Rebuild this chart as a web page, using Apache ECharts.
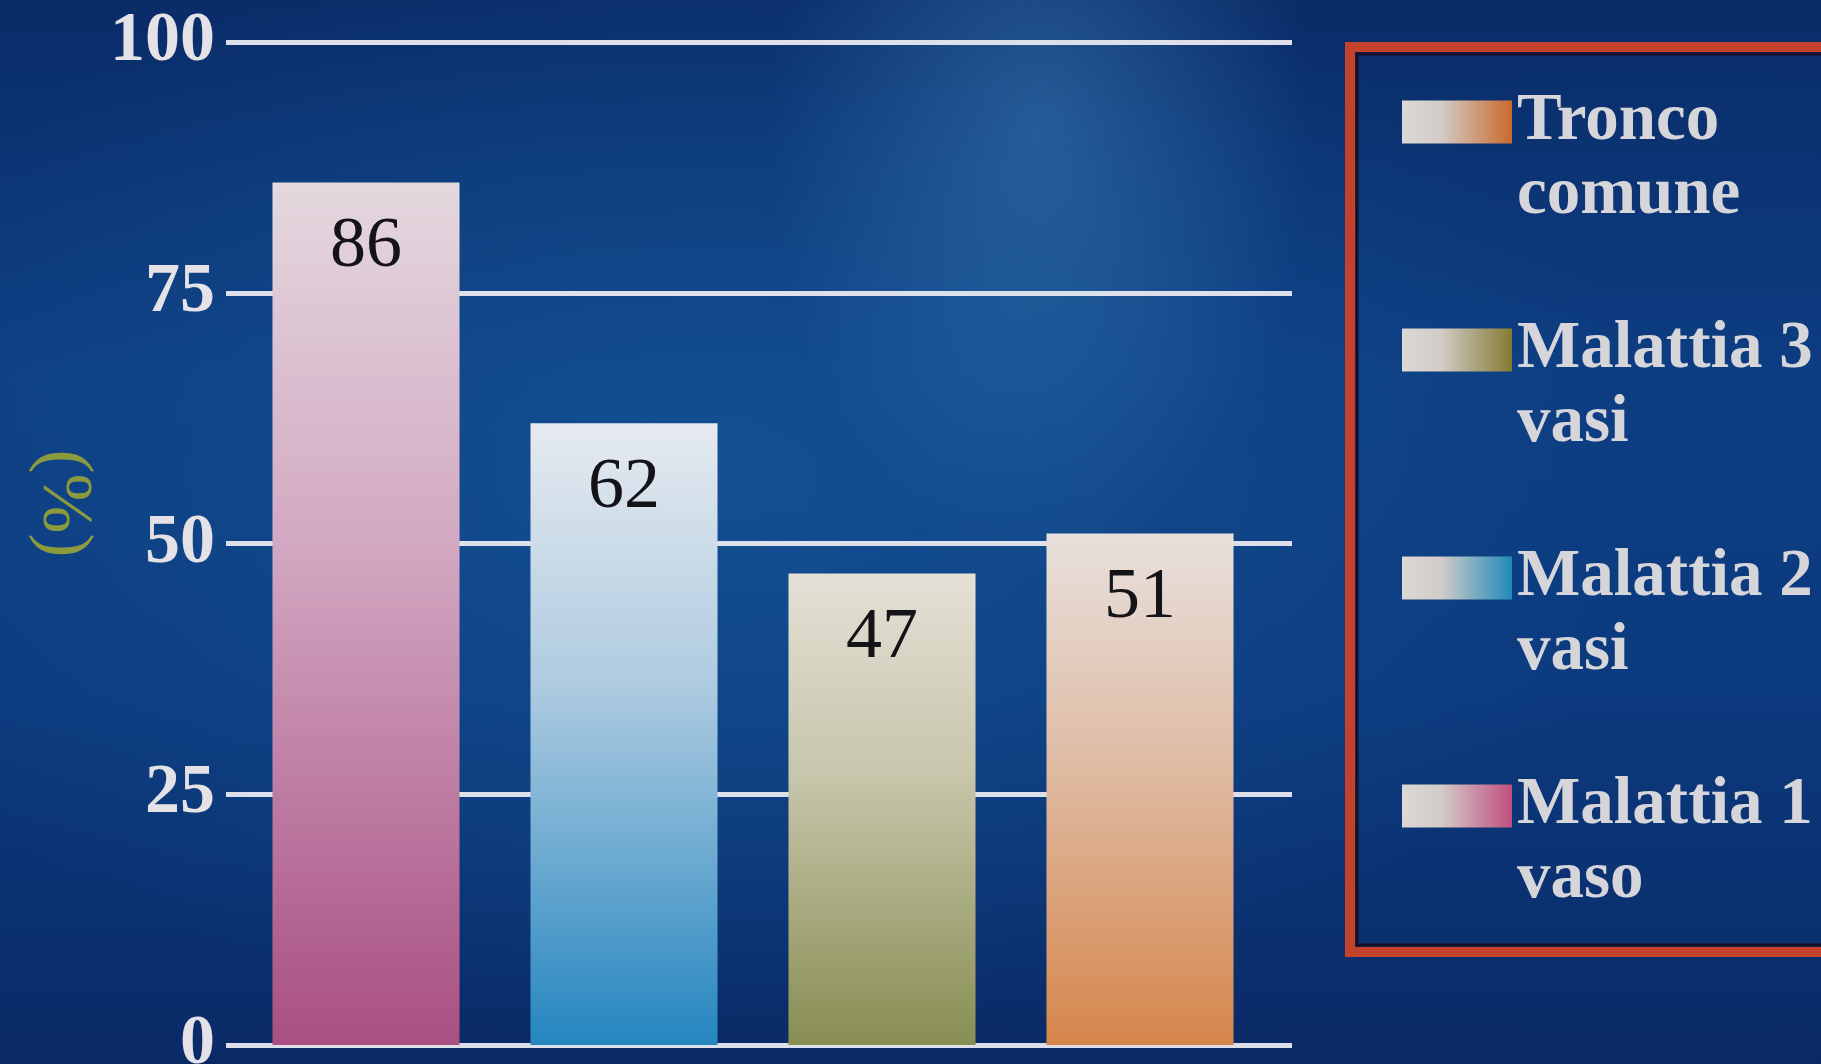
<!DOCTYPE html>
<html>
<head>
<meta charset="utf-8">
<script src="https://cdn.jsdelivr.net/npm/echarts@6/dist/echarts.min.js"></script>
<style>
  html, body { margin:0; padding:0; width:1821px; height:1064px; overflow:hidden; }
  body {
    background:
      radial-gradient(ellipse 360px 600px at 1040px 130px, rgba(70,140,195,0.42), rgba(70,140,195,0) 75%),
      radial-gradient(ellipse 1100px 650px at 720px 480px, rgba(22,88,152,0.7), rgba(22,88,152,0) 85%),
      linear-gradient(180deg, #0a2c68 0%, #0d3d82 35%, #0c3a7e 65%, #0a2a66 100%);
  }
  #chart { width:1821px; height:1064px; }
</style>
</head>
<body>
<div id="chart"></div>
<script>
// ---- data ----
const categories = ['Malattia 1 vaso', 'Malattia 2 vasi', 'Malattia 3 vasi', 'Tronco comune'];
const values = [86, 62, 47, 51];
const legendOrder = ['Tronco comune', 'Malattia 3 vasi', 'Malattia 2 vasi', 'Malattia 1 vaso'];
const yMin = 0, yMax = 100, yStep = 25;
const yName = '(%)';

// ---- styles ----
const barStops = {
  'Malattia 1 vaso': ['#e4d8de', '#d2a8c2', '#a94f82'],
  'Malattia 2 vasi': ['#e6eaf0', '#aecbe0', '#2486c0'],
  'Malattia 3 vasi': ['#e4e0d6', '#c8c6ac', '#878e52'],
  'Tronco comune':   ['#e8e0dc', '#dfbea8', '#d6864c']
};
const iconEnd = {
  'Malattia 1 vaso': '#c04f80',
  'Malattia 2 vasi': '#1f8ab8',
  'Malattia 3 vasi': '#857a32',
  'Tronco comune':   '#c96a2c'
};
function vgrad(s) {
  return new echarts.graphic.LinearGradient(0, 0, 0, 1, [
    {offset: 0, color: s[0]}, {offset: 0.42, color: s[1]}, {offset: 1, color: s[2]}
  ]);
}
function hgrad(c) {
  return new echarts.graphic.LinearGradient(0, 0, 1, 0, [
    {offset: 0, color: '#dcd8d6'}, {offset: 0.35, color: '#d2ccc8'}, {offset: 1, color: c}
  ]);
}

const series = categories.map((name, i) => ({
  name: name,
  type: 'bar',
  xAxisIndex: 0,
  yAxisIndex: 0,
  barGap: '-100%',
  barCategoryGap: '27.5%',
  data: values.map((v, j) => (j === i ? v : '-')),
  itemStyle: { color: vgrad(barStops[name]) },
  label: {
    show: true,
    position: 'insideTop',
    distance: 29,
    color: '#141418',
    fontFamily: 'Liberation Serif',
    fontSize: 72,
    fontWeight: 'normal'
  },
  emphasis: { disabled: true },
  z: 3
}));

const chart = echarts.init(document.getElementById('chart'), null, {renderer: 'canvas'});
chart.setOption({
  backgroundColor: 'transparent',
  animation: false,
  grid: [
    { left: 237, width: 1032, top: 42, bottom: 19, containLabel: false, outerBoundsMode: 'none' },
    { left: 226, width: 1066, top: 42, bottom: 19, containLabel: false, outerBoundsMode: 'none' }
  ],
  xAxis: [
    { type: 'category', gridIndex: 0, data: categories, show: false },
    { type: 'category', gridIndex: 1, data: categories, show: false }
  ],
  yAxis: [
    { type: 'value', gridIndex: 0, min: yMin, max: yMax, interval: yStep, show: false },
    {
      type: 'value', gridIndex: 1, min: yMin, max: yMax, interval: yStep,
      axisLine: { show: false },
      axisTick: { show: false },
      axisLabel: {
        margin: 11,
        color: '#e4e2e6',
        fontFamily: 'Liberation Serif',
        fontWeight: 'bold',
        fontSize: 70
      },
      splitLine: { show: true, lineStyle: { color: '#dde0ea', width: 5 } },
      name: yName,
      nameLocation: 'middle',
      nameRotate: -90,
      nameGap: 125,
      nameTextStyle: {
        color: '#8c9a3e',
        fontFamily: 'Liberation Serif',
        fontSize: 72,
        padding: [0, 80, 0, 0]
      }
    }
  ],
  legend: {
    orient: 'vertical',
    left: 1402,
    top: 11,
    padding: 0,
    itemGap: 6,
    itemWidth: 110,
    itemHeight: 43,
    icon: 'rect',
    selectedMode: false,
    data: legendOrder.map(n => ({ name: n, itemStyle: { color: hgrad(iconEnd[n]) } })),
    formatter: n => '\n' + n.replace(/ (\S+)$/, '\n$1'),
    textStyle: {
      color: '#d6d6da',
      fontFamily: 'Liberation Serif',
      fontWeight: 'bold',
      fontSize: 67,
      lineHeight: 74
    }
  },
  graphic: [
    { type: 'rect', shape: { x: 1350, y: 47, width: 600, height: 905 },
      style: { fill: 'none', stroke: '#c4422c', lineWidth: 10 }, z: 1 },
    { type: 'rect', shape: { x: 1357, y: 54, width: 600, height: 891 },
      style: { fill: 'none', stroke: '#1a0e26', lineWidth: 3 }, z: 1 }
  ],
  series: series
});
</script>
</body>
</html>
